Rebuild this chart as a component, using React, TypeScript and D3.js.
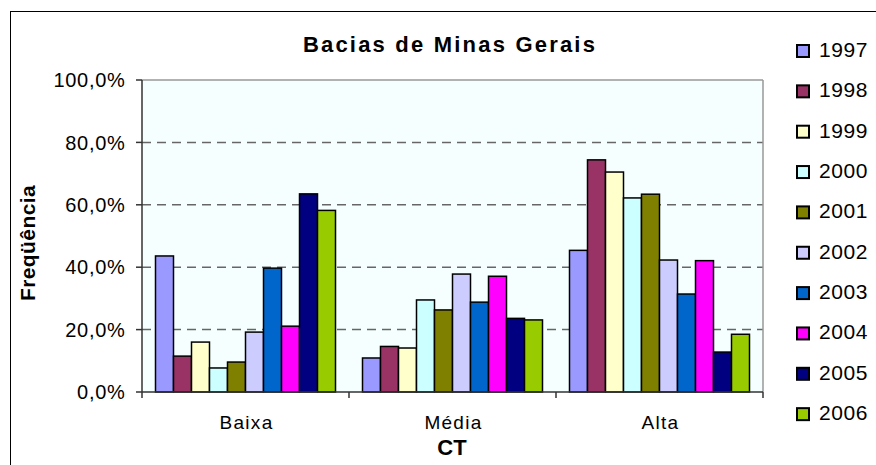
import React from 'react';
import * as d3 from 'd3';

const categories = ['Baixa', 'Média', 'Alta'];
const years = ['1997', '1998', '1999', '2000', '2001', '2002', '2003', '2004', '2005', '2006'];
// percentages per year, in the order Baixa, Média, Alta
const values: Record<string, number[]> = {
  '1997': [43.6, 10.9, 45.4],
  '1998': [11.5, 14.6, 74.4],
  '1999': [16.0, 14.1, 70.5],
  '2000': [7.7, 29.5, 62.2],
  '2001': [9.6, 26.3, 63.4],
  '2002': [19.2, 37.8, 42.3],
  '2003': [39.7, 28.8, 31.4],
  '2004': [21.1, 37.1, 42.1],
  '2005': [63.5, 23.6, 12.8],
  '2006': [58.2, 23.1, 18.5],
};
const colors = ['#9999FF', '#993366', '#FFFFCC', '#CCFFFF', '#808000', '#CCCCFF', '#0066CC', '#FF00FF', '#000080', '#99CC00'];
const yTicks = [0, 20, 40, 60, 80, 100];

const W = 876;
const H = 465;
const font = 'Liberation Sans, Arial, sans-serif';

export default function App() {
  const left = 142;
  const right = 763;
  const top = 80;
  const bottom = 392;

  const x = d3.scaleBand<string>().domain(categories).range([left, right]).paddingInner(0.1304).paddingOuter(0.0652);
  const xYear = d3.scaleBand<string>().domain(years).range([0, x.bandwidth()]);
  const y = d3.scaleLinear().domain([0, 100]).range([bottom, top]);
  const color = d3.scaleOrdinal<string, string>().domain(years).range(colors);
  const step = x.step();
  const fmt = (v: number) => d3.format('.1f')(v).replace('.', ',') + '%';

  return (
    <svg width={W} height={H} style={{ position: 'absolute', left: 0, top: 0, background: '#fff' }} fontFamily={font}>
      <rect x={10.5} y={11.5} width={W + 20} height={H + 20} fill="#fff" stroke="#000" strokeWidth={1} />

      <text x={450} y={52} textAnchor="middle" fontSize={22} fontWeight="bold" letterSpacing={2.2}>
        Bacias de Minas Gerais
      </text>

      <rect x={left} y={top} width={right - left} height={bottom - top} fill="#F6FFFF" />
      {yTicks.slice(1, -1).map((t) => (
        <line key={t} x1={left} x2={right} y1={y(t)} y2={y(t)} stroke="#666" strokeWidth={1.5} strokeDasharray="9,6" />
      ))}
      <line x1={left} x2={right} y1={top} y2={top} stroke="#999" strokeWidth={1.5} />
      <line x1={right} x2={right} y1={top} y2={bottom} stroke="#999" strokeWidth={1.5} />

      {categories.map((c, ci) =>
        years.map((yr) => {
          const v = values[yr][ci];
          return (
            <rect
              key={c + yr}
              x={(x(c) ?? 0) + (xYear(yr) ?? 0)}
              y={y(v)}
              width={xYear.bandwidth()}
              height={bottom - y(v)}
              fill={color(yr)}
              stroke="#000"
              strokeWidth={1.5}
            />
          );
        })
      )}

      <line x1={left} x2={left} y1={top} y2={bottom} stroke="#333" strokeWidth={1.5} />
      <line x1={left} x2={right} y1={bottom} y2={bottom} stroke="#333" strokeWidth={1.5} />
      {yTicks.map((t) => (
        <g key={t}>
          <line x1={left - 6} x2={left} y1={y(t)} y2={y(t)} stroke="#333" strokeWidth={1.5} />
          <text x={125.5} y={y(t)} dy="0.36em" textAnchor="end" fontSize={20} letterSpacing={0.7}>
            {fmt(t)}
          </text>
        </g>
      ))}
      {d3.range(categories.length + 1).map((i) => (
        <line key={i} x1={left + i * step} x2={left + i * step} y1={bottom} y2={bottom + 6} stroke="#333" strokeWidth={1.5} />
      ))}
      {categories.map((c) => (
        <text key={c} x={(x(c) ?? 0) + x.bandwidth() / 2 + 1} y={429} textAnchor="middle" fontSize={19} letterSpacing={1.3}>
          {c}
        </text>
      ))}

      <text x={452} y={455} textAnchor="middle" fontSize={22} fontWeight="bold">
        CT
      </text>
      <text transform="translate(35,243) rotate(-90)" textAnchor="middle" fontSize={21} fontWeight="bold" letterSpacing={0.4}>
        Freqüência
      </text>

      {years.map((yr, i) => {
        const ty = 57 + i * 40.35;
        return (
          <g key={yr}>
            <rect x={797} y={ty - 12} width={12} height={12} fill={color(yr)} stroke="#000" strokeWidth={2} />
            <text x={819} y={ty} fontSize={21} letterSpacing={0.6}>
              {yr}
            </text>
          </g>
        );
      })}
    </svg>
  );
}
